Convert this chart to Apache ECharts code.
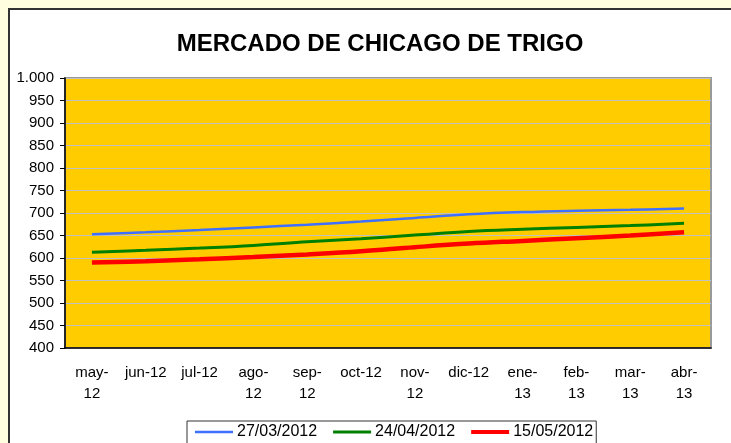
<!DOCTYPE html>
<html>
<head>
<meta charset="utf-8">
<script src="https://cdn.jsdelivr.net/npm/echarts@6/dist/echarts.min.js"></script>
<style>
  html, body { margin: 0; padding: 0; background: #FFFFE0; }
  .panel {
    position: absolute; left: 8px; top: 8px; right: 0; bottom: 0;
    background: #fff; border-left: 2px solid #333; border-top: 2px solid #333;
  }
  #chart { position: absolute; left: 0; top: 0; width: 731px; height: 443px; }
</style>
</head>
<body>
<div class="panel"></div>
<div id="chart"></div>
<script>
// datos
const categories = ['may-12', 'jun-12', 'jul-12', 'ago-12', 'sep-12', 'oct-12', 'nov-12', 'dic-12', 'ene-13', 'feb-13', 'mar-13', 'abr-13']
// etiquetas que Excel parte en dos líneas
const wrapped = ['may-12', 'ago-12', 'sep-12', 'nov-12', 'ene-13', 'feb-13', 'mar-13', 'abr-13']
const seriesNames = ['27/03/2012', '24/04/2012', '15/05/2012']
const serie1 = [653, 657, 662, 668, 674, 681, 689, 697, 702, 705, 707, 710]
const serie2 = [613, 617, 622, 628, 636, 643, 651, 659, 664, 668, 672, 677]
const serie3 = [590, 593, 597, 602, 608, 615, 624, 632, 638, 644, 650, 657]

const colors = ['#3F6FFF', '#008000', '#FF0000']
const widths = [2.5, 3, 4.5]
// icono de leyenda: barra horizontal, el grosor depende de la serie
const legendIcons = ['path://M0 0H100V6H0Z', 'path://M0 0H100V8H0Z', 'path://M0 0H100V11H0Z']
const font = 'Liberation Sans, Arial, sans-serif'

const chart = echarts.init(document.getElementById('chart'))

chart.setOption({
  animation: false,
  title: {
    text: 'MERCADO DE CHICAGO DE TRIGO',
    left: 375,
    top: 27,
    textAlign: 'center',
    textStyle: { fontFamily: font, fontSize: 24, fontWeight: 'bold', color: '#000' }
  },
  legend: {
    data: seriesNames.map((n, i) => ({ name: n, icon: legendIcons[i] })),
    left: 187,
    top: 421,
    itemWidth: 38,
    itemHeight: 14,
    itemGap: 16,
    padding: [3, 3, 5, 8],
    borderColor: '#333',
    borderWidth: 1,
    textStyle: { fontFamily: font, fontSize: 16, color: '#000', padding: [0, 0, 0, -1] }
  },
  grid: {
    left: 65,
    top: 78,
    right: 20,
    bottom: 95,
    show: true,
    backgroundColor: '#FFCC00',
    borderColor: '#999',
    borderWidth: 2
  },
  xAxis: {
    type: 'category',
    data: categories,
    boundaryGap: true,
    axisLine: { lineStyle: { color: '#000', width: 1.5 } },
    axisTick: { length: 5, lineStyle: { color: '#000' } },
    axisLabel: {
      interval: 0,
      margin: 14,
      lineHeight: 21,
      fontFamily: font,
      fontSize: 15,
      color: '#000',
      formatter: v => wrapped.includes(v) ? v.replace('-', '-\n') : v
    }
  },
  yAxis: {
    type: 'value',
    min: 400,
    max: 1000,
    interval: 50,
    axisLine: { show: true, lineStyle: { color: '#000', width: 1.5 } },
    axisTick: { show: true, length: 5, lineStyle: { color: '#000' } },
    splitLine: { lineStyle: { color: '#C0C0C0', width: 1 } },
    axisLabel: {
      margin: 11,
      fontFamily: font,
      fontSize: 15,
      color: '#000',
      formatter: v => v >= 1000 ? String(v).replace(/(\d)(\d{3})$/, '$1.$2') : v
    }
  },
  series: [serie1, serie2, serie3].map((d, i) => ({
    name: seriesNames[i],
    type: 'line',
    data: d,
    smooth: 0.4,
    symbol: 'none',
    itemStyle: { color: colors[i] },
    lineStyle: { color: colors[i], width: widths[i] }
  }))
})
</script>
</body>
</html>
